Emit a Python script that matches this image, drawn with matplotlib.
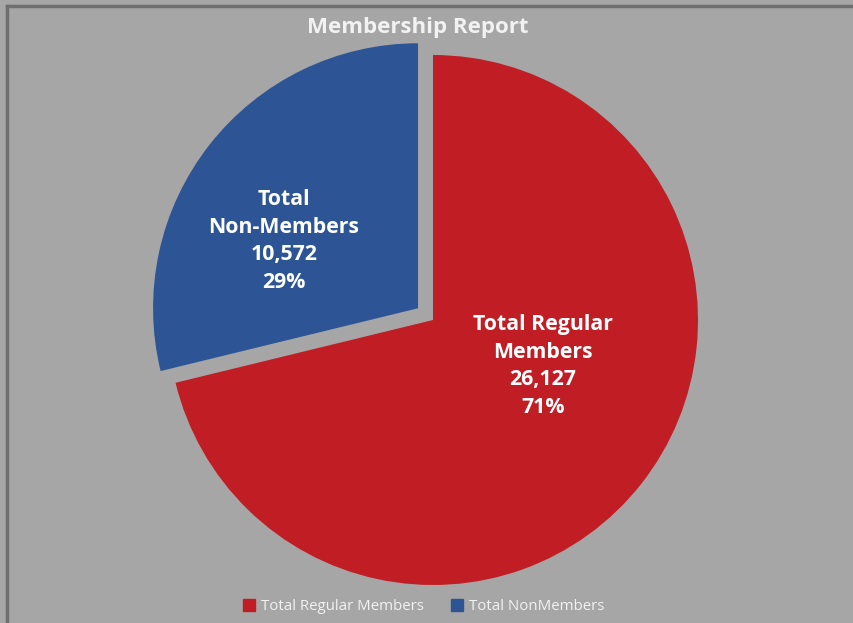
import matplotlib
matplotlib.use("Agg")
import matplotlib.pyplot as plt
from matplotlib.lines import Line2D

categories = ["Total Regular Members", "Total NonMembers"]
label_lines = ["Total Regular\nMembers", "Total\nNon-Members"]
values = [26127, 10572]
colors = ["#c01d24", "#2d5596"]
title = "Membership Report"

W, H = 854, 623
fig = plt.figure(figsize=(W / 100, H / 100), dpi=100)
fig.patch.set_facecolor("#a6a6a6")
ax = fig.add_axes([0, 0, 1, 1])
ax.set_facecolor("#a6a6a6")
ax.axis("off")

# border on top/left
fig.lines.append(Line2D([7 / W, 7 / W], [0, 1 - 6 / H], transform=fig.transFigure,
                        color="#6f6f6f", linewidth=2.5))
fig.lines.append(Line2D([7 / W, 1], [1 - 6 / H, 1 - 6 / H], transform=fig.transFigure,
                        color="#6f6f6f", linewidth=2.5))

cx, cy, r = 433, H - 320, 265
total = sum(values)
wedges, _ = ax.pie(values, colors=colors, startangle=90, counterclock=False,
                   explode=[0, 19], radius=r, center=(cx, cy),
                   wedgeprops=dict(linewidth=0))
ax.set_xlim(0, W)
ax.set_ylim(0, H)
ax.set_aspect("equal")

# labels
label_pos = [(543, H - 366), (284, H - 241)]
for (x, y), lab, v in zip(label_pos, label_lines, values):
    pct = round(100 * v / total)
    ax.text(x, y, f"{lab}\n{v:,}\n{pct}%", ha="center", va="center", color="white",
            fontsize=15.3, fontweight="bold", family="Open Sans", linespacing=1.42)

fig.text(418 / W, 1 - 27 / H, title, ha="center", va="center", color="#f2f2f2",
         fontsize=16, fontweight="bold", family="Open Sans")

handles = [Line2D([], [], marker="s", linestyle="", markersize=8, markerfacecolor=c,
                  markeredgecolor=c) for c in colors]
leg = fig.legend(handles, categories, loc="center", bbox_to_anchor=(422 / W, 1 - 607 / H),
                 ncol=2, frameon=False, handletextpad=0.2, columnspacing=1.6,
                 handlelength=1.2, prop=dict(family="Open Sans", size=10.8))
for t in leg.get_texts():
    t.set_color("#f2f2f2")

fig.savefig("out.png", dpi=100, facecolor=fig.get_facecolor())
